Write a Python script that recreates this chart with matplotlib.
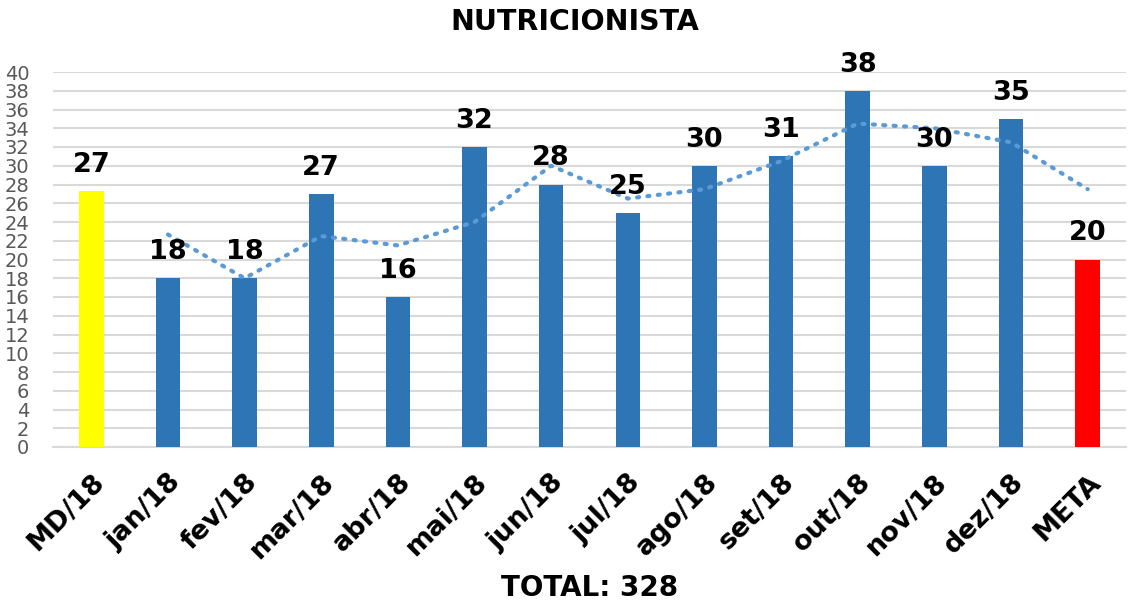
import matplotlib
matplotlib.use("Agg")
import matplotlib.pyplot as plt
import numpy as np

categories = ["MD/18", "jan/18", "fev/18", "mar/18", "abr/18", "mai/18", "jun/18",
              "jul/18", "ago/18", "set/18", "out/18", "nov/18", "dez/18", "META"]
monthly = [18, 18, 27, 16, 32, 28, 25, 30, 31, 38, 30, 35]
meta = 20
md = sum(monthly) / len(monthly)
values = [md] + monthly + [meta]
labels = [str(int(v)) for v in values]
colors = ["#FFFF00"] + ["#2E75B6"] * len(monthly) + ["#FF0000"]
total_text = "TOTAL: " + str(sum(monthly))
yticks = list(range(0, 41, 2))

plt.rcParams['font.family'] = ['DejaVu Sans']

fig = plt.figure(figsize=(11.28, 6.06), dpi=100)
ax = fig.add_axes([53/1128, 159/606, (1126-53)/1128, 375/606])

x = np.arange(len(categories))
ax.bar(x, values, width=0.32, color=colors, zorder=3)

# 2-period moving average trendline
ma = [(values[i-1] + values[i]) / 2 for i in range(1, len(values))]
ax.plot(x[1:], ma, linestyle=(0, (0.5, 2.0)), color="#5B9BD5", linewidth=3.0,
        dash_capstyle='round', zorder=4)

for xi, v, lab in zip(x, values, labels):
    ax.text(xi, v + 1.4, lab, ha='center', va='bottom', fontsize=19.5,
            fontweight='bold', color='black', zorder=5)

ax.set_xlim(-0.5, 13.5)
ax.set_ylim(0, 40)
ax.set_yticks(yticks)
ax.set_yticklabels([str(t) for t in yticks], fontsize=14, color="#595959")
ax.tick_params(axis='y', length=0, pad=17)
ax.tick_params(axis='x', length=0, pad=16)
ax.set_xticks(x)
ax.set_xticklabels(categories, rotation=45, ha='right', rotation_mode='anchor',
                   fontsize=19.5, fontweight='bold')
ax.grid(axis='y', color="#D9D9D9", linewidth=1.5, zorder=0)
for s in ['top', 'right', 'left']:
    ax.spines[s].set_visible(False)
ax.spines['bottom'].set_color("#D9D9D9")
ax.spines['bottom'].set_linewidth(1.5)

fig.text(575/1128, 1 - 22/606, "NUTRICIONISTA", ha='center', va='center',
         fontsize=20.5, fontweight='bold')
fig.text(590/1128, 1 - 588/606, total_text, ha='center', va='center',
         fontsize=20, fontweight='bold')

fig.savefig("out.png", dpi=100)
